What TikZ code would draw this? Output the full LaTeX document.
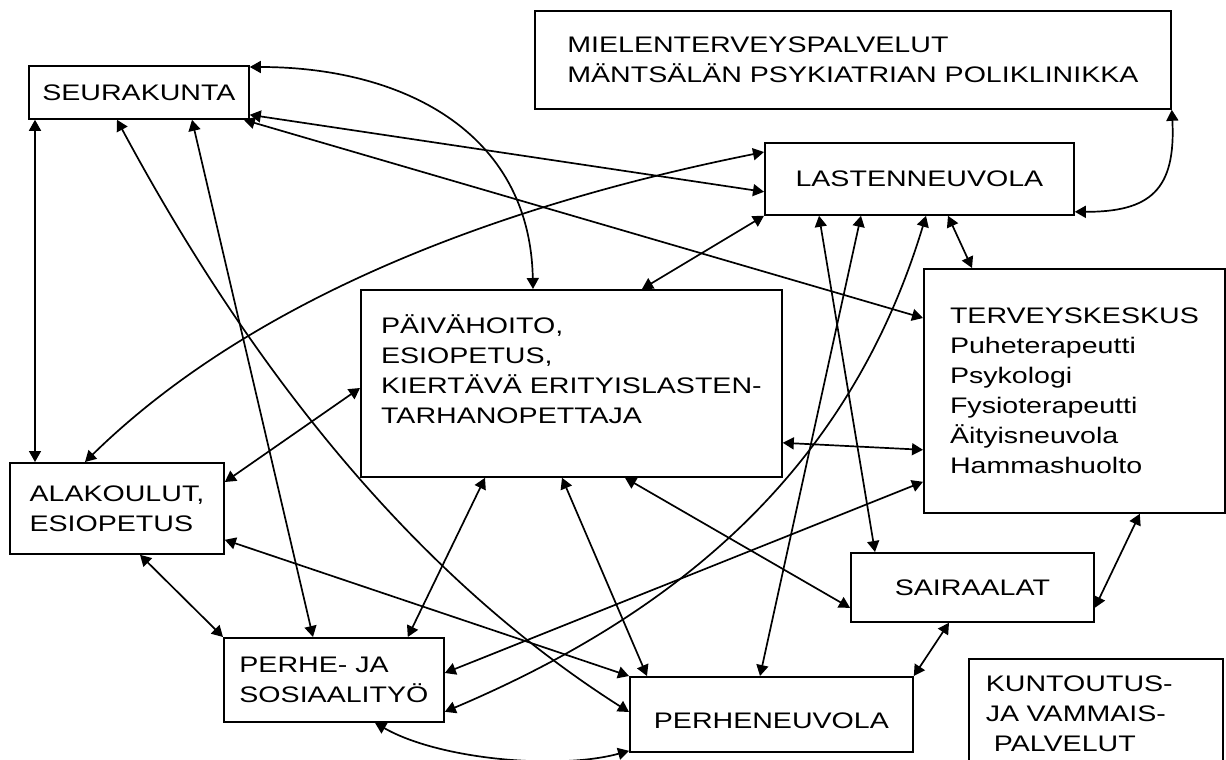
\documentclass[tikz,border=0pt]{standalone}
\usepackage{fontspec}
\setmainfont{Liberation Sans}[FakeStretch=1.27]
\usetikzlibrary{arrows.meta}

\tikzset{
  box/.style={draw, line width=1.8pt, anchor=north west, align=left, inner ysep=0pt},
  link/.style={<->, >={Triangle[length=11pt,width=12pt]}, line width=1.7pt},
}

\begin{document}
\begin{tikzpicture}[x=1pt, y=-1pt, font=\fontsize{22.5}{30}\selectfont]
  \clip (0,0) rectangle (1226,760);
  \fill[white] (0,0) rectangle (1226,760);
  \node[box, minimum width=220pt, minimum height=53pt] (seura) at (28,65) {SEURAKUNTA};
  \node[box, minimum width=636pt, minimum height=98pt] (mielen) at (534,10) {MIELENTERVEYSPALVELUT\\MÄNTSÄLÄN PSYKIATRIAN POLIKLINIKKA};
  \node[box, minimum width=309pt, minimum height=72pt] (lasten) at (764,142) {LASTENNEUVOLA};
  \node[box, minimum width=421pt, minimum height=187pt] (paiva) at (360,289) {PÄIVÄHOITO,\\ESIOPETUS,\\KIERTÄVÄ ERITYISLASTEN-\\TARHANOPETTAJA\rule[-28pt]{0pt}{0pt}};
  \node[box, minimum width=301pt, minimum height=244pt] (terv) at (923,268) {TERVEYSKESKUS\\Puheterapeutti\\Psykologi\\Fysioterapeutti\\Äityisneuvola\\Hammashuolto};
  \node[box, minimum width=214pt, minimum height=91pt] (ala) at (9,462) {ALAKOULUT,\\ESIOPETUS};
  \node[box, minimum width=243pt, minimum height=69pt] (sair) at (850,552) {SAIRAALAT};
  \node[box, minimum width=220pt, minimum height=84pt] (perhe) at (223,637) {PERHE- JA\\SOSIAALITYÖ};
  \node[box, minimum width=283pt, minimum height=75pt] (pneu) at (629,676) {\rule{0pt}{29pt}PERHENEUVOLA};
  \node[box, text width=220pt, inner xsep=17pt, minimum height=110pt] (kunt) at (968,658) {KUNTOUTUS-\\JA VAMMAIS-\\\hspace*{8pt}PALVELUT};
  \begin{scope}[link]
    \draw ([xshift=7pt]seura.south west) -- ([xshift=26pt]ala.north west);
    \draw ([xshift=89pt]seura.south west) .. controls (230,330) and (390,560) .. ([yshift=-36pt]pneu.north west);
    \draw ([xshift=164pt]seura.south west) -- ([xshift=90pt]perhe.north west);
    \draw ([xshift=-6pt]seura.south east) -- ([yshift=-50pt]terv.north west);
    \draw ([yshift=5pt]seura.south east) -- ([yshift=24pt]lasten.south west);
    \draw ([yshift=-2pt]seura.north east) .. controls (400,67) and (530,130) .. ([xshift=173pt]paiva.north west);
    \draw ([yshift=-10pt]lasten.north west) .. controls (450,215) and (230,320) .. ([xshift=76pt]ala.north west);
    \draw (lasten.south west) -- ([xshift=282pt]paiva.north west);
    \draw ([xshift=55pt]lasten.south west) -- ([xshift=25pt]sair.north west);
    \draw ([xshift=97pt]lasten.south west) -- ([xshift=131pt]pneu.north west);
    \draw ([xshift=162pt]lasten.south west) .. controls (851,464) and (685,610) .. ([yshift=11pt]perhe.south east);
    \draw ([xshift=184pt]lasten.south west) -- ([xshift=49pt]terv.north west);
    \draw (mielen.south east) .. controls (1176,190) and (1150,212) .. ([yshift=4pt]lasten.south east);
    \draw ([yshift=-99pt]paiva.north west) -- ([yshift=-20pt]ala.north east);
    \draw ([yshift=35pt]paiva.south east) -- ([yshift=64pt]terv.south west);
    \draw ([xshift=125pt]paiva.south west) -- ([xshift=-37pt]perhe.north east);
    \draw ([xshift=202pt]paiva.south west) -- ([xshift=18pt]pneu.north west);
    \draw ([xshift=265pt]paiva.south west) -- ([yshift=15pt]sair.south west);
    \draw ([yshift=15pt]ala.south east) -- (pneu.north west);
    \draw ([xshift=131pt]ala.south west) -- (perhe.north west);
    \draw ([yshift=-36pt]perhe.north east) -- ([yshift=32pt]terv.south west);
    \draw ([xshift=152pt]perhe.south west) .. controls (440,760) and (560,770) .. ([yshift=2pt]pneu.south west);
    \draw ([xshift=-86pt]terv.south east) -- ([yshift=15pt]sair.south east);
    \draw ([xshift=99pt]sair.south west) -- (pneu.north east);
  \end{scope}
\end{tikzpicture}
\end{document}
